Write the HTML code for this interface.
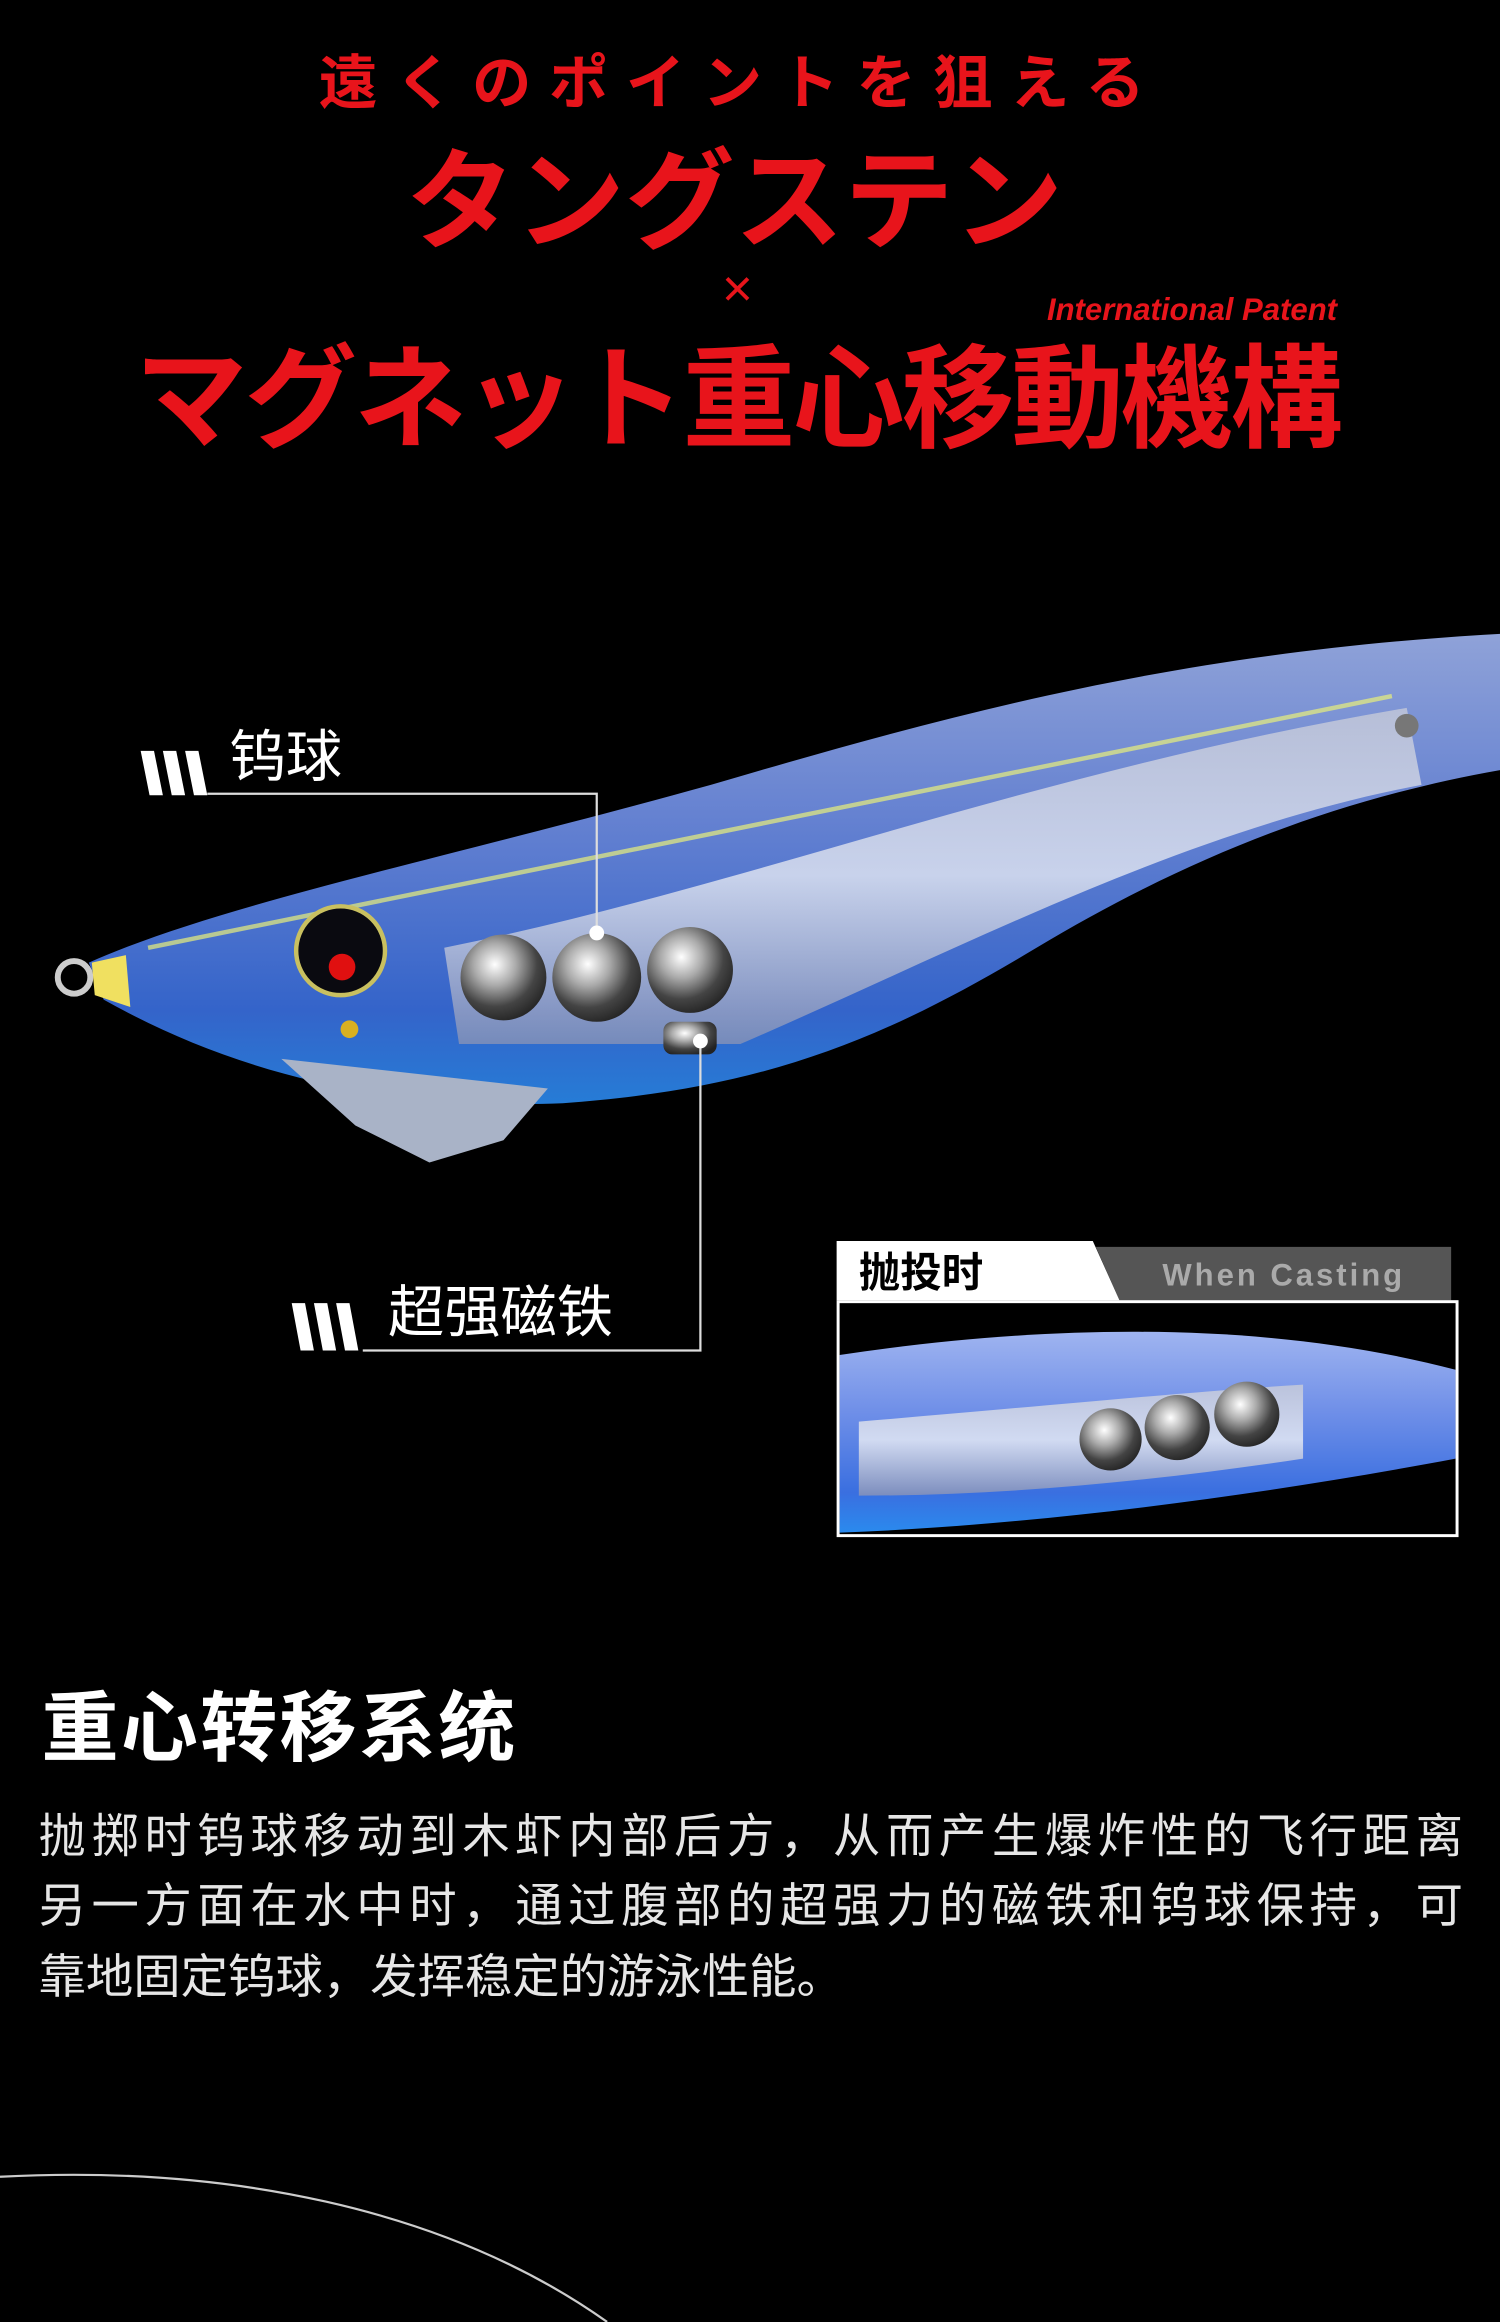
<!DOCTYPE html>
<html><head><meta charset="utf-8"><style>
html,body{margin:0;padding:0;background:#000;}
svg{display:block}
</style></head><body>
<svg width="1500" height="2322" viewBox="0 0 1013 1568" xmlns="http://www.w3.org/2000/svg" style="font-family:'Liberation Sans','Noto Sans CJK SC',sans-serif">
<defs>
<linearGradient id="body" x1="0" y1="0" x2="0" y2="1">
<stop offset="0" stop-color="#9fb4f0"/><stop offset="0.4" stop-color="#6f8fe8"/><stop offset="0.8" stop-color="#3a6fe0"/><stop offset="1" stop-color="#2a8aee"/>
</linearGradient>
<radialGradient id="ball" cx="0.4" cy="0.35" r="0.7">
<stop offset="0" stop-color="#fff"/><stop offset="0.35" stop-color="#aaa"/><stop offset="0.7" stop-color="#444"/><stop offset="1" stop-color="#222"/>
</radialGradient>
<linearGradient id="tube" x1="0" y1="0" x2="0" y2="1">
<stop offset="0" stop-color="#c9ccd8"/><stop offset="0.5" stop-color="#eef0f5"/><stop offset="1" stop-color="#8d95b5"/>
</linearGradient>
<clipPath id="inset"><rect x="567" y="880" width="416" height="156"/></clipPath>
</defs>
<rect width="1013" height="1568" fill="#000"/>
<g fill="#e8141b" font-weight="bold" text-anchor="middle">
<text x="500" y="70" font-size="40" letter-spacing="12" textLength="570">遠くのポイントを狙える</text>
<text x="496" y="162" font-size="74">タングステン</text>
<text x="498" y="207" font-size="36" font-weight="normal">×</text>
<text x="805" y="216" font-size="21" font-style="italic">International Patent</text>
<text x="498" y="296" font-size="76" letter-spacing="-2">マグネット重心移動機構</text>
</g>
<!-- lure -->
<path d="M60,650 C150,610 300,580 480,530 C650,480 800,440 1013,428 L1013,520 C900,540 800,580 700,640 C600,700 520,735 380,745 C250,750 150,720 70,675 Z" fill="url(#body)" opacity="0.9"/>
<path d="M300,640 C500,600 700,520 950,478 L960,530 C800,560 650,640 500,705 L310,705 Z" fill="url(#tube)" opacity="0.75"/>
<path d="M100,640 C300,600 600,540 940,470" stroke="#e8f07a" stroke-width="3" fill="none" opacity="0.7"/>
<path d="M190,715 L370,735 L340,770 L290,785 L240,760 Z" fill="#a9b3c7"/>
<circle cx="50" cy="660" r="11" fill="none" stroke="#ccc" stroke-width="4"/>
<path d="M62,650 L85,645 L88,680 L64,672 Z" fill="#f0e060"/>
<circle cx="230" cy="642" r="30" fill="#0a0a10" stroke="#c9c060" stroke-width="3"/>
<circle cx="231" cy="653" r="9" fill="#e01010"/>
<circle cx="236" cy="695" r="6" fill="#d9b020"/>
<circle cx="340" cy="660" r="29" fill="url(#ball)"/>
<circle cx="403" cy="660" r="30" fill="url(#ball)"/>
<circle cx="466" cy="655" r="29" fill="url(#ball)"/>
<rect x="448" y="690" width="36" height="22" rx="6" fill="url(#ball)"/>
<circle cx="950" cy="490" r="8" fill="#777"/>
<!-- labels -->
<g fill="#fff">
<polygon points="95,507 104,507 110,537 101,537"/><polygon points="110,507 119,507 125,537 116,537"/><polygon points="125,507 134,507 140,537 131,537"/>
<polygon points="197,880 206,880 212,912 203,912"/><polygon points="212,880 221,880 227,912 218,912"/><polygon points="227,880 236,880 242,912 233,912"/>
<text x="155" y="524" font-size="38">钨球</text>
<text x="262" y="899" font-size="38">超强磁铁</text>
</g>
<polyline points="140,536 403,536 403,628" fill="none" stroke="#ddd" stroke-width="1.5"/>
<circle cx="403" cy="630" r="5" fill="#fff"/>
<polyline points="245,912 473,912 473,703" fill="none" stroke="#ddd" stroke-width="1.5"/>
<circle cx="473" cy="703" r="5" fill="#fff"/>
<!-- inset -->
<polygon points="740,842 980,842 980,878 756,878" fill="#555"/>
<polygon points="565,838 738,838 756,878 565,878" fill="#fff"/>
<text x="580" y="869" font-size="28" font-weight="bold" fill="#000">抛投时</text>
<text x="785" y="868" font-size="21" font-weight="bold" fill="#aaa" letter-spacing="2">When Casting</text>
<g clip-path="url(#inset)">
<path d="M567,915 C700,895 850,890 983,925 L983,985 C850,1010 700,1030 567,1035 Z" fill="url(#body)"/>
<path d="M580,960 C700,950 800,940 880,935 L880,985 C780,1000 680,1010 580,1010 Z" fill="url(#tube)" opacity="0.8"/>
<circle cx="750" cy="972" r="21" fill="url(#ball)"/>
<circle cx="795" cy="964" r="22" fill="url(#ball)"/>
<circle cx="842" cy="955" r="22" fill="url(#ball)"/>
</g>
<rect x="566" y="879" width="418" height="158" fill="none" stroke="#fff" stroke-width="2"/>
<!-- text -->
<text x="28" y="1185" font-size="52" font-weight="bold" fill="#fff" textLength="320">重心转移系统</text>
<g fill="#e6e6e6" font-size="32">
<text x="26" y="1251" textLength="962">抛掷时钨球移动到木虾内部后方，从而产生爆炸性的飞行距离</text>
<text x="26" y="1298" textLength="962">另一方面在水中时，通过腹部的超强力的磁铁和钨球保持，可</text>
<text x="26" y="1346">靠地固定钨球，发挥稳定的游泳性能。</text>
</g>
<path d="M0,1470 C150,1462 300,1490 410,1568" fill="none" stroke="#ccc" stroke-width="1.5"/>
</svg>
</body></html>
